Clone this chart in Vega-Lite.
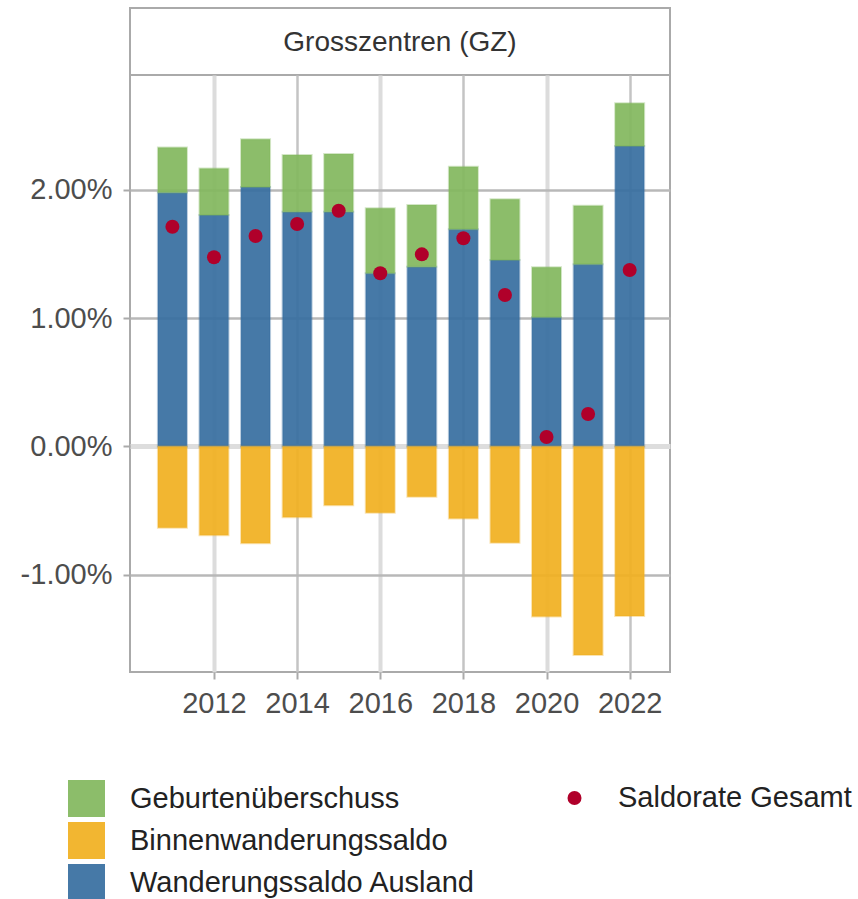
{
  "$schema": "https://vega.github.io/schema/vega-lite/v6.json",
  "autosize": {"type": "none"},
  "padding": {"left": 130, "top": 8, "right": 728, "bottom": 891},
  "background": "white",
  "bounds": "flush",
  "spacing": 0,
  "config": {
    "font": "Liberation Sans",
    "view": {"stroke": "#aaaaaa", "strokeWidth": 2, "fill": "white"}
  },
  "datasets": {
    "bars": [
      {"year": 2011, "component": "Wanderungssaldo Ausland", "value": 1.980},
      {"year": 2011, "component": "Geburtenüberschuss", "value": 0.350},
      {"year": 2011, "component": "Binnenwanderungssaldo", "value": -0.633},
      {"year": 2012, "component": "Wanderungssaldo Ausland", "value": 1.804},
      {"year": 2012, "component": "Geburtenüberschuss", "value": 0.364},
      {"year": 2012, "component": "Binnenwanderungssaldo", "value": -0.692},
      {"year": 2013, "component": "Wanderungssaldo Ausland", "value": 2.022},
      {"year": 2013, "component": "Geburtenüberschuss", "value": 0.374},
      {"year": 2013, "component": "Binnenwanderungssaldo", "value": -0.755},
      {"year": 2014, "component": "Wanderungssaldo Ausland", "value": 1.830},
      {"year": 2014, "component": "Geburtenüberschuss", "value": 0.442},
      {"year": 2014, "component": "Binnenwanderungssaldo", "value": -0.552},
      {"year": 2015, "component": "Wanderungssaldo Ausland", "value": 1.830},
      {"year": 2015, "component": "Geburtenüberschuss", "value": 0.450},
      {"year": 2015, "component": "Binnenwanderungssaldo", "value": -0.459},
      {"year": 2016, "component": "Wanderungssaldo Ausland", "value": 1.350},
      {"year": 2016, "component": "Geburtenüberschuss", "value": 0.507},
      {"year": 2016, "component": "Binnenwanderungssaldo", "value": -0.516},
      {"year": 2017, "component": "Wanderungssaldo Ausland", "value": 1.401},
      {"year": 2017, "component": "Geburtenüberschuss", "value": 0.481},
      {"year": 2017, "component": "Binnenwanderungssaldo", "value": -0.391},
      {"year": 2018, "component": "Wanderungssaldo Ausland", "value": 1.693},
      {"year": 2018, "component": "Geburtenüberschuss", "value": 0.488},
      {"year": 2018, "component": "Binnenwanderungssaldo", "value": -0.562},
      {"year": 2019, "component": "Wanderungssaldo Ausland", "value": 1.454},
      {"year": 2019, "component": "Geburtenüberschuss", "value": 0.474},
      {"year": 2019, "component": "Binnenwanderungssaldo", "value": -0.750},
      {"year": 2020, "component": "Wanderungssaldo Ausland", "value": 1.007},
      {"year": 2020, "component": "Geburtenüberschuss", "value": 0.390},
      {"year": 2020, "component": "Binnenwanderungssaldo", "value": -1.326},
      {"year": 2021, "component": "Wanderungssaldo Ausland", "value": 1.420},
      {"year": 2021, "component": "Geburtenüberschuss", "value": 0.457},
      {"year": 2021, "component": "Binnenwanderungssaldo", "value": -1.625},
      {"year": 2022, "component": "Wanderungssaldo Ausland", "value": 2.342},
      {"year": 2022, "component": "Geburtenüberschuss", "value": 0.333},
      {"year": 2022, "component": "Binnenwanderungssaldo", "value": -1.321}
    ],
    "saldo": [
      {"year": 2011, "series": "Saldorate Gesamt", "value": 1.713},
      {"year": 2012, "series": "Saldorate Gesamt", "value": 1.475},
      {"year": 2013, "series": "Saldorate Gesamt", "value": 1.641},
      {"year": 2014, "series": "Saldorate Gesamt", "value": 1.734},
      {"year": 2015, "series": "Saldorate Gesamt", "value": 1.838},
      {"year": 2016, "series": "Saldorate Gesamt", "value": 1.350},
      {"year": 2017, "series": "Saldorate Gesamt", "value": 1.498},
      {"year": 2018, "series": "Saldorate Gesamt", "value": 1.623},
      {"year": 2019, "series": "Saldorate Gesamt", "value": 1.181},
      {"year": 2020, "series": "Saldorate Gesamt", "value": 0.074},
      {"year": 2021, "series": "Saldorate Gesamt", "value": 0.253},
      {"year": 2022, "series": "Saldorate Gesamt", "value": 1.376}
    ]
  },
  "vconcat": [
    {
      "width": 540,
      "height": 67,
      "view": {"stroke": "#aaaaaa", "strokeWidth": 2, "fill": "white"},
      "data": {"values": [{"label": "Grosszentren (GZ)"}]},
      "mark": {"type": "text", "fontSize": 28, "color": "#333333", "align": "center", "baseline": "middle", "dy": 1},
      "encoding": {
        "text": {"field": "label", "type": "nominal"},
        "x": {"datum": 0, "type": "quantitative", "scale": {"domain": [-1, 1]}, "axis": null},
        "y": {"datum": 0, "type": "quantitative", "scale": {"domain": [-1, 1]}, "axis": null}
      }
    },
    {
      "width": 540,
      "height": 597,
      "layer": [
        {
          "data": {"name": "bars"},
          "mark": {"type": "bar", "width": 29, "fillOpacity": 0.92, "strokeWidth": 2, "strokeOpacity": 0.35},
          "encoding": {
            "x": {
              "field": "year", "type": "quantitative",
              "scale": {"domain": [2010.1, 2022.85], "nice": false, "zero": false},
              "axis": {
                "title": null, "values": [2012, 2014, 2016, 2018, 2020, 2022], "format": "d",
                "labelFontSize": 29, "labelColor": "#4d4d4d", "labelFlush": false,
                "tickColor": "#aaaaaa", "tickSize": 7, "tickWidth": 2, "labelPadding": 10,
                "domain": false, "grid": true,
                "gridColor": {"condition": {"test": "datum.value % 4 === 0", "value": "#dcdcdc"}, "value": "#c4c4c4"},
                "gridWidth": {"condition": {"test": "datum.value % 4 === 0", "value": 4}, "value": 2.5}
              }
            },
            "y": {
              "field": "value", "type": "quantitative", "stack": "zero",
              "scale": {"domain": [-1.758, 2.896], "nice": false, "zero": false},
              "axis": {
                "title": null, "values": [-1, 0, 1, 2],
                "labelExpr": "replace(format(datum.value, '.2f'), '−', '-') + '%'",
                "labelFontSize": 29, "labelColor": "#4d4d4d",
                "tickColor": "#aaaaaa", "tickSize": 7, "tickWidth": 2, "labelPadding": 11,
                "domain": false, "grid": true,
                "gridColor": {"condition": {"test": "datum.value === 0", "value": "#dddddd"}, "value": "#b8b8b8"},
                "gridWidth": {"condition": {"test": "datum.value === 0", "value": 5}, "value": 2.5}
              }
            },
            "fill": {
              "field": "component", "type": "nominal",
              "scale": {"domain": ["Geburtenüberschuss", "Binnenwanderungssaldo", "Wanderungssaldo Ausland"], "range": ["#82b75d", "#f1b020", "#366ea0"]},
              "legend": {
                "title": null, "orient": "none", "legendX": -62, "legendY": 772, "direction": "vertical",
                "symbolType": "square", "symbolSize": 1369, "symbolStrokeWidth": 0, "symbolOpacity": 0.92,
                "labelFontSize": 29, "labelColor": "#222222", "labelOffset": 25, "labelLimit": 600,
                "rowPadding": 5, "padding": 0
              }
            },
            "stroke": {
              "field": "component", "type": "nominal",
              "scale": {"domain": ["Geburtenüberschuss", "Binnenwanderungssaldo", "Wanderungssaldo Ausland"], "range": ["#82b75d", "#f1b020", "#366ea0"]},
              "legend": null
            },
            "order": {"field": "component", "sort": "descending"}
          }
        },
        {
          "data": {"name": "saldo"},
          "mark": {"type": "circle", "size": 196, "opacity": 1},
          "encoding": {
            "x": {"field": "year", "type": "quantitative"},
            "y": {"field": "value", "type": "quantitative"},
            "color": {
              "field": "series", "type": "nominal",
              "scale": {"range": ["#b0002a"]},
              "legend": {
                "title": null, "orient": "none", "legendX": 430, "legendY": 775.5,
                "symbolType": "circle", "symbolSize": 196, "symbolStrokeWidth": 0, "symbolOpacity": 1,
                "labelFontSize": 29, "labelColor": "#222222", "labelOffset": 29, "labelLimit": 600,
                "padding": 0
              }
            }
          }
        }
      ]
    }
  ]
}
